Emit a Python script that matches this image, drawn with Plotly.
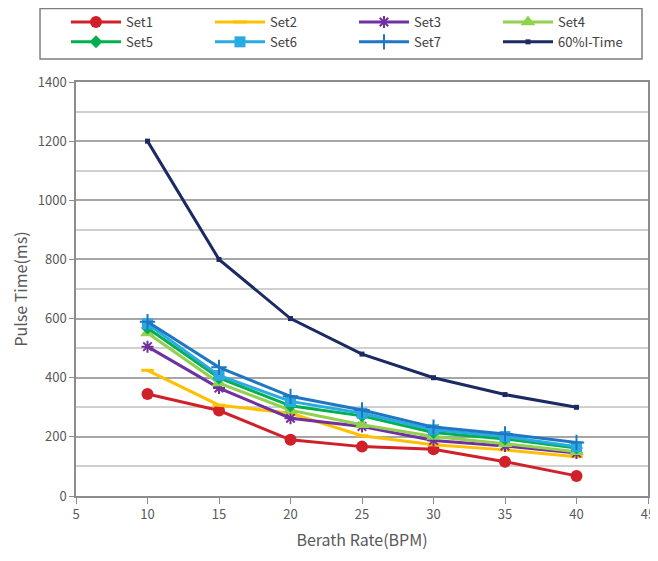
import plotly.graph_objects as go

bpm = [10, 15, 20, 25, 30, 35, 40]
set1 = [345, 289, 190, 167, 158, 116, 68]
set2 = [425, 307, 280, 204, 173, 156, 133]
set3 = [505, 365, 263, 235, 188, 169, 145]
set4 = [551, 382, 290, 241, 201, 177, 150]
set5 = [568, 399, 305, 271, 215, 193, 162]
set6 = [582, 408, 320, 280, 224, 201, 167]
set7 = [589, 435, 337, 291, 233, 210, 181]
time60 = [1200, 800, 600, 480, 400, 343, 300]

series = [
    ("Set1", set1, "#D0202A", dict(symbol="circle", size=12)),
    ("Set2", set2, "#FFC000", dict(symbol="line-ew-open", size=9, line=dict(width=3, color="#FFC000"))),
    ("Set3", set3, "#7030A0", dict(symbol="asterisk-open", size=10, line=dict(width=2, color="#7030A0"))),
    ("Set4", set4, "#92D050", dict(symbol="triangle-up", size=13)),
    ("Set5", set5, "#00B050", dict(symbol="diamond", size=10)),
    ("Set6", set6, "#29ABE2", dict(symbol="square", size=11)),
    ("Set7", set7, "#1F77C4", dict(symbol="cross-thin-open", size=11, line=dict(width=2, color="#1F77C4"))),
    ("60%I-Time", time60, "#1B2A63", dict(symbol="square", size=5)),
]

fig = go.Figure()
for name, ys, col, mk in series:
    m = dict(color=col)
    m.update(mk)
    fig.add_trace(go.Scatter(x=bpm, y=ys, name=name, mode="lines+markers",
                             line=dict(color=col, width=3), marker=m))

# legend frame drawn as a shape (paper coords)
fig.add_shape(type="rect", xref="paper", yref="paper",
              x0=-0.0629, x1=0.9895, y0=1.0556, y1=1.1775,
              line=dict(color="#7F7F7F", width=1.5), fillcolor="rgba(0,0,0,0)", layer="above")

font_family = "Noto Sans CJK SC, Liberation Sans, Arial"
fig.update_layout(
    width=650, height=553,
    margin=dict(l=68, r=10, t=74, b=65, autoexpand=False),
    paper_bgcolor="white", plot_bgcolor="white",
    font=dict(family=font_family, size=13, color="#595959"),
    showlegend=True,
    legend=dict(orientation="h", x=-0.0175, y=1.0604, xanchor="left", yanchor="bottom",
                borderwidth=0, bgcolor="rgba(0,0,0,0)",
                entrywidth=79, entrywidthmode="pixels", itemwidth=50,
                font=dict(size=13, color="#404040"), tracegroupgap=0),
    xaxis=dict(range=[5, 45], dtick=5, tick0=5, showgrid=False, zeroline=False,
               showline=True, linecolor="#8C8C8C", linewidth=1.5, mirror=True,
               ticks="outside", ticklen=6, tickcolor="#8C8C8C",
               title=dict(text="Berath Rate(BPM)", standoff=12)),
    yaxis=dict(range=[0, 1400], dtick=200, showgrid=True, gridcolor="#A6A6A6", gridwidth=1.5,
               zeroline=False, showline=True, linecolor="#8C8C8C", linewidth=1.5, mirror=True,
               ticks="outside", ticklen=5, tickcolor="#8C8C8C",
               minor=dict(dtick=100, showgrid=True, gridcolor="#D0D0D0", gridwidth=1.5),
               title=dict(text="Pulse Time(ms)", standoff=12)),
)

fig.write_html("out.html")
